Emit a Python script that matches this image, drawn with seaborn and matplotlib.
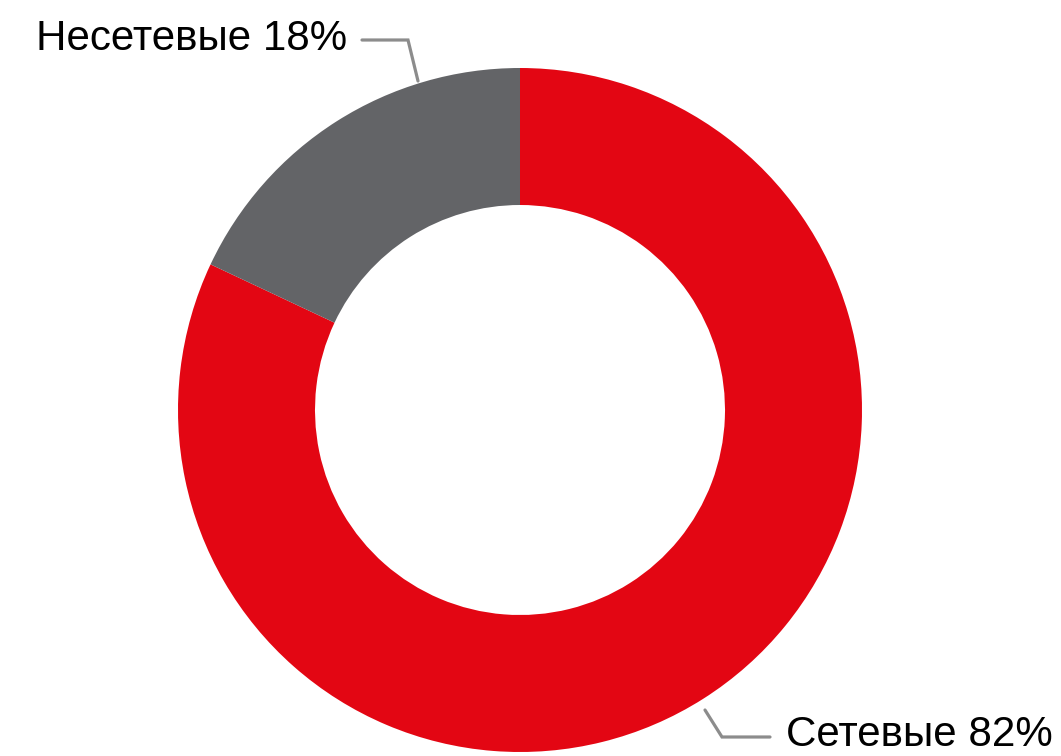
import matplotlib
matplotlib.use("Agg")
import matplotlib.pyplot as plt
import seaborn as sb

# data
categories = ["Сетевые", "Несетевые"]
shares = [82, 18]
colors = ["#E30613", "#636467"]

sb.set_theme(style="white")
plt.rcParams['font.family'] = ['Liberation Sans', 'DejaVu Sans']

W, H = 1061, 756
fig = plt.figure(figsize=(W / 100, H / 100), dpi=100)
ax = fig.add_axes([0, 0, 1, 1])

# donut, pixel space (y up)
cx, cy, r_out, r_in = 520, H - 410, 342, 205
ax.pie(shares, colors=colors, startangle=90, counterclock=False,
       center=(cx, cy), radius=r_out,
       wedgeprops=dict(width=r_out - r_in, linewidth=0))

ax.set_xlim(0, W)
ax.set_ylim(0, H)
ax.set_aspect("equal")
ax.axis("off")

# labels with leader lines
lead = "#8C8C8C"
ax.plot([362, 408, 418], [H - 40, H - 40, H - 81], color=lead, lw=2.3,
        solid_joinstyle="miter")
ax.text(347, H - 39, f"{categories[1]} {shares[1]}%", ha="right", va="center",
        fontsize=30.3, color="black")

ax.plot([705, 722, 770], [H - 710, H - 737, H - 737], color=lead, lw=2.3,
        solid_joinstyle="miter")
ax.text(786, H - 735, f"{categories[0]} {shares[0]}%", ha="left", va="center",
        fontsize=30.3, color="black")

fig.savefig("out.png", dpi=100)
plt.close(fig)
